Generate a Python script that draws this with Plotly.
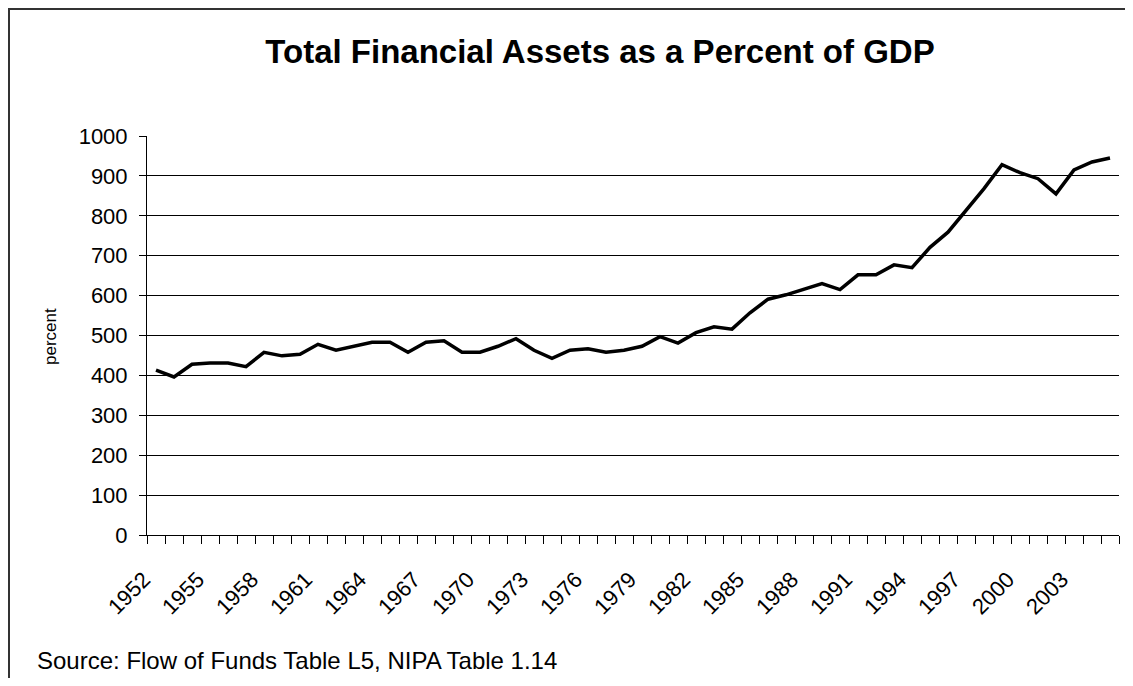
import plotly.graph_objects as go

# Total financial assets as % of GDP, annual 1952-2005
years = list(range(1952, 2006))
pct_of_gdp = [
    413, 396, 428, 431, 431, 422, 458, 449, 453, 478,   # 1952-1961
    463, 473, 483, 483, 458, 483, 487, 458, 458, 473,   # 1962-1971
    492, 463, 443, 463, 467, 458, 463, 473, 497, 481,   # 1972-1981
    507, 522, 516, 557, 591, 602, 617, 630, 615, 652,   # 1982-1991
    652, 677, 670, 721, 759, 814, 868, 928, 908, 893,   # 1992-2001
    855, 915, 935, 945,                                 # 2002-2005
]
label_years = [1952, 1955, 1958, 1961, 1964, 1967, 1970, 1973, 1976,
               1979, 1982, 1985, 1988, 1991, 1994, 1997, 2000, 2003]
y_ticks = [0, 100, 200, 300, 400, 500, 600, 700, 800, 900, 1000]

FONT = "Liberation Sans, Arial, sans-serif"
# page body has an 8px margin, so figure px = screen px - 8
W, H = 1117, 670
L, R, T, B = 139, 6, 128, 143  # plot area on screen: 147..1119 x 136..535


def px_x(p):
    return (p - L) / (W - L - R)


def px_y(p):
    return (H - B - p) / (H - T - B)


fig = go.Figure()
fig.add_trace(go.Scatter(
    x=years, y=pct_of_gdp, mode="lines",
    line=dict(color="black", width=3.5), showlegend=False,
))

fig.update_xaxes(
    range=[years[0] - 0.5, years[-1] + 0.5],
    tickmode="array", tickvals=label_years, ticktext=[str(y) for y in label_years],
    tickangle=-45, ticks="", showgrid=False,
    showline=True, linecolor="black", linewidth=1,
    tickfont=dict(family=FONT, size=22, color="black"),
    ticklabelstandoff=22, ticklabelshift=-12,
    minor=dict(tickmode="array", tickvals=[y - 0.5 for y in years] + [years[-1] + 0.5],
               ticks="outside", ticklen=8, tickcolor="black", tickwidth=1, showgrid=False),
    zeroline=False,
)
fig.update_yaxes(
    range=[0, 1000], tickmode="array", tickvals=y_ticks,
    ticks="outside", ticklen=7, tickcolor="black",
    showgrid=True, gridcolor="black", gridwidth=1,
    showline=True, linecolor="black", linewidth=1,
    tickfont=dict(family=FONT, size=22, color="black"),
    ticklabelstandoff=7, zeroline=False,
)

fig.update_layout(
    width=W, height=H,
    margin=dict(l=L, r=R, t=T, b=B),
    paper_bgcolor="white", plot_bgcolor="white",
    title=dict(
        text="<b>Total Financial Assets as a Percent of GDP</b>",
        font=dict(family=FONT, size=33, color="black"),
        x=592 / W, xanchor="center", y=1 - 43 / H, yanchor="middle",
    ),
    annotations=[
        dict(text="percent", textangle=-90, xref="paper", yref="paper",
             x=px_x(42), y=px_y(329), xanchor="center", yanchor="middle",
             showarrow=False, font=dict(family=FONT, size=17, color="black")),
        dict(text="Source: Flow of Funds Table L5, NIPA Table 1.14",
             xref="paper", yref="paper", x=px_x(27), y=px_y(652),
             xanchor="left", yanchor="middle", showarrow=False,
             font=dict(family=FONT, size=24, color="black")),
    ],
    shapes=[
        # chart border: left and top edges fall inside the picture, the rest runs off it
        dict(type="rect", xref="paper", yref="paper",
             x0=px_x(1), x1=px_x(1200), y0=px_y(760), y1=px_y(1),
             line=dict(color="#333333", width=2), fillcolor="rgba(0,0,0,0)", layer="below"),
    ],
)

fig.write_html("out.html")
